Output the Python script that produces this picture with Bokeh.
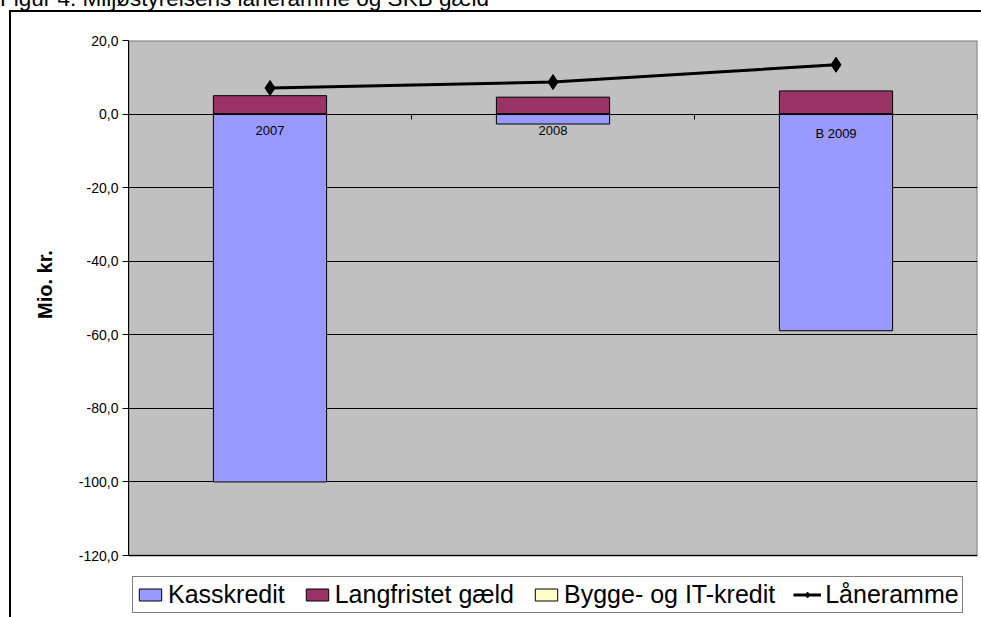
from bokeh.plotting import figure
from bokeh.layouts import column
from bokeh.models import (Range1d, FixedTicker, CustomJSTickFormatter, Legend,
                          LegendItem, ColumnDataSource, Div)
from bokeh.core.properties import value
from bokeh.embed import file_html
from bokeh.resources import INLINE

title_text = "Figur 4. Miljøstyrelsens låneramme og SKB gæld"
cats = ["2007", "2008", "B 2009"]
kasskredit = [-100.0, -2.7, -58.9]
langfristet = [5.0, 4.6, 6.3]
bygge_it = [0.0, 0.0, 0.0]
laaneramme = [7.1, 8.7, 13.4]
y_ticks = [-120, -100, -80, -60, -40, -20, 0, 20]
grid_ticks = [-120, -100, -80, -60, -40, -20, 0]
y_label = "Mio. kr."
series_names = ["Kasskredit", "Langfristet gæld", "Bygge- og IT-kredit", "Låneramme"]

FONT = "Liberation Sans"
Y_MIN, Y_MAX = min(y_ticks), max(y_ticks)
# the frame extends below the plot area so the legend can sit inside it
FRAME_TOP, AREA_BOTTOM, CANVAS_H = 40, 555, 617
ppu = (AREA_BOTTOM - FRAME_TOP) / (Y_MAX - Y_MIN)
y_start = Y_MIN - (CANVAS_H - AREA_BOTTOM) / ppu

xs = [i + 0.5 for i in range(len(cats))]
src = ColumnDataSource(dict(x=xs, cat=cats, kass=kasskredit, lang=langfristet,
                            bygge=bygge_it, laane=laaneramme, zero=[0.0] * len(cats)))

p = figure(width=981, height=CANVAS_H, x_range=Range1d(0, len(cats)),
           y_range=Range1d(y_start, Y_MAX), x_axis_location="above",
           output_backend="svg", toolbar_location=None,
           min_border_left=128, min_border_right=4, min_border_top=FRAME_TOP,
           min_border_bottom=0)
p.margin = (0, 0, 0, 0)
p.styles = {
    "background-image": "linear-gradient(black, black), linear-gradient(black, black)",
    "background-position": "9px 10px, 9px 10px",
    "background-size": "2px 100%, 100% 2px",
    "background-repeat": "no-repeat",
}
p.background_fill_color = None
p.border_fill_color = None
p.outline_line_color = None

# plot area (grey)
area = p.quad(left=[0], right=[len(cats)], bottom=[Y_MIN], top=[Y_MAX],
              fill_color="#C0C0C0", line_color="#808080", line_width=2)
area.level = "image"

# y axis
p.yaxis.bounds = (Y_MIN, Y_MAX)
p.yaxis.ticker = FixedTicker(ticks=y_ticks)
p.yaxis.formatter = CustomJSTickFormatter(code="return tick.toFixed(1).replace('.', ',');")
p.yaxis.axis_line_color = "black"
p.yaxis.major_tick_line_color = "black"
p.yaxis.major_tick_out = 6
p.yaxis.major_tick_in = 0
p.yaxis.minor_tick_line_color = None
p.yaxis.major_label_text_font = FONT
p.yaxis.major_label_text_font_size = "14px"
p.yaxis.major_label_text_color = "black"
p.yaxis.major_label_standoff = 4
# leading no-break spaces lift the label to the centre of the grey plot area
p.yaxis.axis_label = "\u00a0" * 16 + y_label
p.yaxis.axis_label_text_font = FONT
p.yaxis.axis_label_text_font_size = "20px"
p.yaxis.axis_label_text_font_style = "bold"
p.yaxis.axis_label_text_color = "black"
p.yaxis.axis_label_standoff = 20

# category axis crossing at zero
p.xaxis.fixed_location = 0
p.xaxis.ticker = FixedTicker(ticks=list(range(len(cats) + 1)))
p.xaxis.major_label_text_alpha = 0
p.xaxis.major_label_text_font_size = "1px"
p.xaxis.major_label_standoff = 0
p.xaxis.axis_line_color = "black"
p.xaxis.major_tick_line_color = "black"
p.xaxis.major_tick_out = 0
p.xaxis.major_tick_in = 5
p.xaxis.minor_tick_line_color = None

p.xgrid.grid_line_color = None
p.ygrid.ticker = FixedTicker(ticks=grid_ticks)
p.ygrid.grid_line_color = "black"
p.ygrid.grid_line_width = 1

bw = 0.4
r_kass = p.vbar(x="x", width=bw, bottom="kass", top="zero", source=src,
                fill_color="#9999FF", line_color="black", line_width=1)
r_lang = p.vbar(x="x", width=bw, bottom="zero", top="lang", source=src,
                fill_color="#993366", line_color="black", line_width=1)
r_bygge = p.vbar(x="x", width=bw, bottom="zero", top="bygge", source=src,
                 fill_color="#FFFFCC", line_color="black", line_width=1)

p.text(x="x", y="zero", text="cat", source=src, text_align="center",
       text_baseline="top", y_offset=12, text_font=value(FONT),
       text_font_size="13px", text_color="black")

r_line = p.line(x="x", y="laane", source=src, line_color="black", line_width=3)
r_mark = p.scatter(x="x", y="laane", source=src, marker="diamond", size=15,
                   fill_color="black", line_color="black")

legend = Legend(items=[
    LegendItem(label=series_names[0], renderers=[r_kass]),
    LegendItem(label=series_names[1], renderers=[r_lang]),
    LegendItem(label=series_names[2], renderers=[r_bygge]),
    LegendItem(label=series_names[3], renderers=[r_line, r_mark]),
], orientation="horizontal", location=(4, 4))
legend.label_text_font = FONT
legend.label_text_font_size = "25px"
legend.label_text_color = "black"
legend.border_line_color = "black"
legend.border_line_width = 1
legend.background_fill_color = "white"
legend.background_fill_alpha = 1
legend.glyph_width = 28
legend.glyph_height = 15
legend.label_standoff = 4
legend.spacing = 18
legend.padding = 3
legend.margin = 0
p.add_layout(legend, "center")

title_div = Div(text=title_text, width=981, height=26, margin=(-14, 0, -12, 0),
                styles={"font-family": FONT, "font-size": "22.5px", "color": "black",
                        "white-space": "nowrap", "line-height": "26px"})

root = column(title_div, p, spacing=0)
open("out.html", "w").write(file_html(root, INLINE))
